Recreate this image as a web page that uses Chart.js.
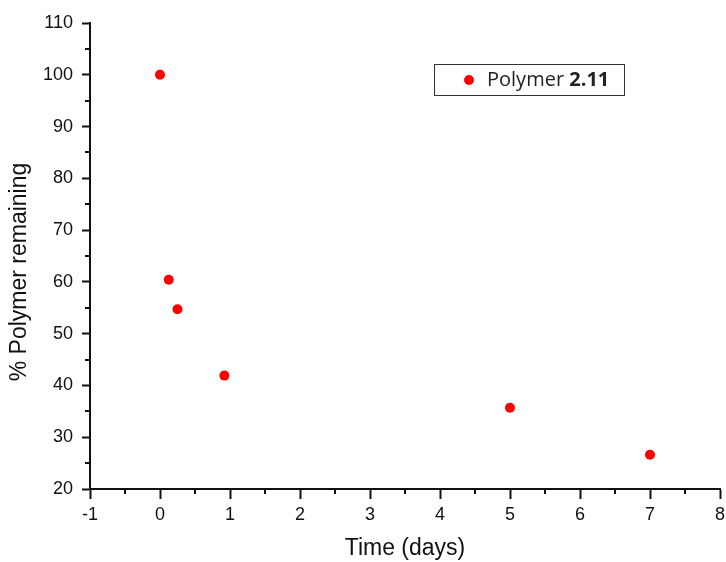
<!DOCTYPE html>
<html>
<head>
<meta charset="utf-8">
<script src="https://cdn.jsdelivr.net/npm/chart.js@4/dist/chart.umd.min.js"></script>
<style>
  html, body { margin: 0; padding: 0; background: #fff; }
  #wrap { width: 726px; height: 562px; position: relative; }
</style>
</head>
<body>
<div id="wrap"><canvas id="myChart" width="726" height="562"></canvas></div>
<script>
// ----------- Data ----------- //
const timeDays = [0, 0.125, 0.25, 0.92, 5, 7];
const remaining = [100, 60.4, 54.7, 41.9, 35.7, 26.6];
const seriesName = 'Polymer ';
const seriesBold = '2.11';

const AXIS_COLOR = '#111';
const TEXT_COLOR = '#111';

// minor ticks (chart.js only has one tick length, so draw the short ones here)
const minorTicks = {
    id: 'minorTicks',
    afterDraw(chart) {
        const c = chart.ctx;
        const x = chart.scales.x, y = chart.scales.y;
        c.save();
        c.strokeStyle = AXIS_COLOR;
        c.lineWidth = 2;
        c.beginPath();
        for (let v = -0.5; v < 8; v += 1) {
            const px = Math.round(x.getPixelForValue(v));
            c.moveTo(px, y.bottom);
            c.lineTo(px, y.bottom + 5);
        }
        for (let v = 25; v < 110; v += 10) {
            const py = Math.round(y.getPixelForValue(v));
            c.moveTo(x.left, py);
            c.lineTo(x.left - 5, py);
        }
        c.stroke();
        c.restore();
    }
};

// legend box with bold number
const boxLegend = {
    id: 'boxLegend',
    afterDraw(chart) {
        const c = chart.ctx;
        c.save();
        c.strokeStyle = '#333';
        c.lineWidth = 1;
        c.strokeRect(434.5, 64.5, 190, 31);
        c.fillStyle = 'red';
        c.beginPath();
        c.arc(469, 80, 5, 0, Math.PI * 2);
        c.fill();
        c.fillStyle = '#222';
        c.textBaseline = 'middle';
        c.font = '20px "Open Sans"';
        c.fillText(seriesName, 487, 80);
        const w = c.measureText(seriesName).width;
        c.font = 'bold 20px "Open Sans"';
        c.fillText(seriesBold, 487 + w, 80);
        c.restore();
    }
};

const tickFont = { family: 'Liberation Sans, Arial', size: 18 };
const titleFont = { family: 'Liberation Sans, Arial', size: 23 };

const ctx = document.getElementById('myChart');
const chart = new Chart(ctx, {
    type: 'scatter',
    data: {
        datasets: [{
            label: seriesName + seriesBold,
            data: timeDays.map((t, i) => ({ x: t, y: remaining[i] })),
            backgroundColor: '#ff0000',
            borderWidth: 0,
            pointRadius: 5,
            pointHoverRadius: 5
        }]
    },
    options: {
        responsive: false,
        animation: false,
        layout: { padding: { top: 23, right: 0, left: 0, bottom: 0 } },
        plugins: {
            legend: { display: false },
            tooltip: { enabled: false }
        },
        scales: {
            x: {
                type: 'linear',
                min: -1, max: 8,
                border: { display: true, color: AXIS_COLOR, width: 2 },
                grid: { drawOnChartArea: false, drawTicks: true, tickLength: 10, tickColor: AXIS_COLOR, tickWidth: 2 },
                ticks: { stepSize: 1, color: TEXT_COLOR, font: tickFont, padding: 5, maxRotation: 0 },
                title: { display: true, text: 'Time (days)', color: TEXT_COLOR, font: titleFont, padding: { top: 4, bottom: 0 } },
                afterFit: s => { s.height = 73; s.paddingRight = 6; s.paddingLeft = 0; }
            },
            y: {
                type: 'linear',
                min: 20, max: 110,
                border: { display: true, color: AXIS_COLOR, width: 2 },
                grid: { drawOnChartArea: false, drawTicks: true, tickLength: 8, tickColor: AXIS_COLOR, tickWidth: 2 },
                ticks: { stepSize: 10, color: TEXT_COLOR, font: tickFont, padding: 9 },
                // trailing spaces nudge the rotated title down a little
                title: { display: true, text: '% Polymer remaining     ', color: TEXT_COLOR, font: titleFont, padding: { top: 6, bottom: 4 } },
                afterFit: s => { s.width = 90; s.paddingTop = 0; s.paddingBottom = 0; }
            }
        }
    },
    plugins: [minorTicks, boxLegend]
});
</script>
</body>
</html>
